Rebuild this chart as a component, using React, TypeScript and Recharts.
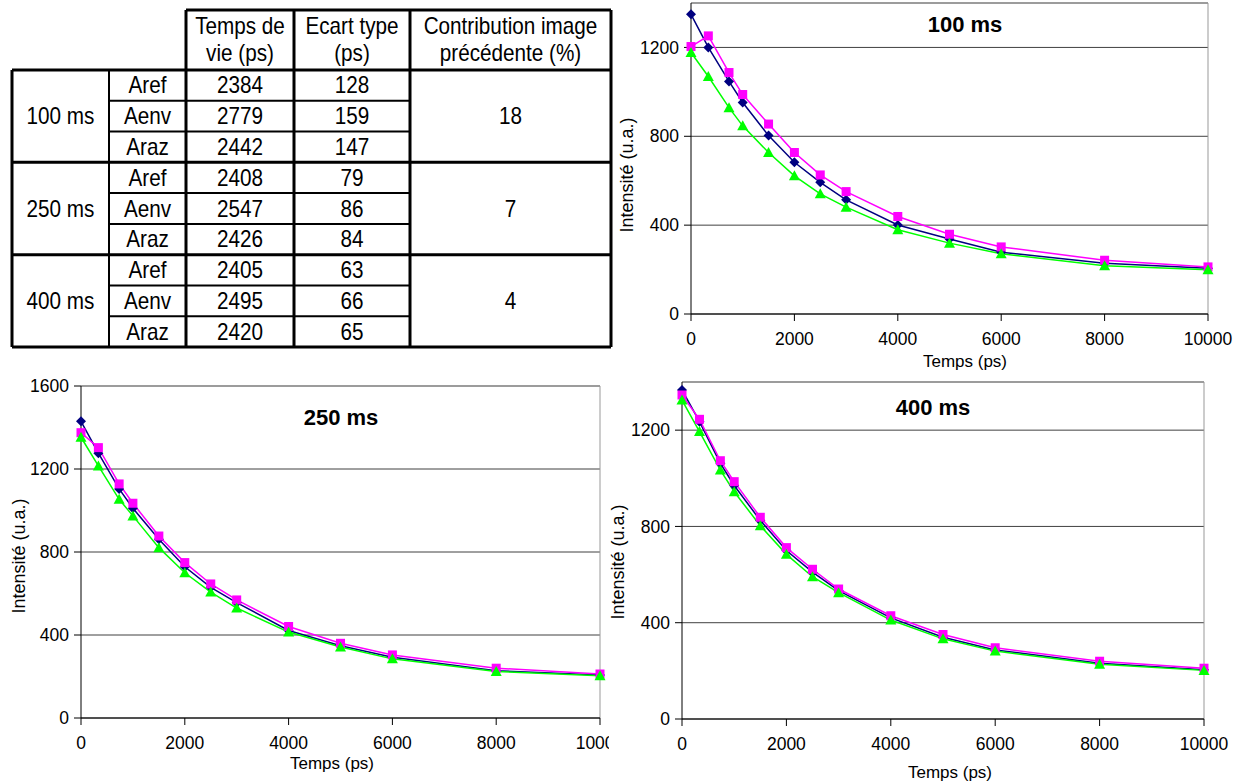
import { LineChart, Line, XAxis, YAxis, CartesianGrid, ReferenceLine } from 'recharts'

// time gates (ps) shared by the three decays
const times = [0, 335, 735, 1000, 1500, 2000, 2500, 3000, 4000, 5000, 6000, 8000, 10000]
const xTicks = [0, 2000, 4000, 6000, 8000, 10000]

const aref100 = [1349, 1200, 1047, 952, 803, 683, 593, 514, 401, 338, 278, 229, 206]
const aenv100 = [1204, 1252, 1087, 988, 855, 727, 626, 551, 439, 359, 302, 242, 212]
const araz100 = [1177, 1069, 929, 847, 727, 622, 541, 481, 379, 319, 271, 217, 199]

const aref250 = [1430, 1276, 1104, 1011, 861, 729, 630, 556, 422, 348, 293, 228, 207]
const aenv250 = [1375, 1303, 1128, 1035, 877, 749, 646, 569, 441, 360, 304, 240, 212]
const araz250 = [1353, 1215, 1054, 974, 821, 700, 607, 530, 414, 342, 285, 224, 204]

const aref400 = [1367, 1235, 1062, 970, 825, 700, 610, 533, 420, 340, 287, 232, 205]
const aenv400 = [1346, 1245, 1073, 986, 838, 712, 622, 540, 429, 351, 296, 240, 211]
const araz400 = [1325, 1194, 1034, 944, 803, 684, 591, 525, 411, 333, 282, 227, 202]

// table
const groups = ['100 ms', '250 ms', '400 ms']
const methods = ['Aref', 'Aenv', 'Araz']
const lifetimes = [2384, 2779, 2442, 2408, 2547, 2426, 2405, 2495, 2420]
const stdDevs = [128, 159, 147, 79, 86, 84, 63, 66, 65]
const contributions = [18, 7, 4]

const NAVY = '#000080'
const MAGENTA = '#FF00FF'
const GREEN = '#00FF00'
const FONT = '"Liberation Sans", Arial, sans-serif'

function build(aref: number[], aenv: number[], araz: number[]) {
  return times.map((t, i) => ({ t, aref: aref[i], aenv: aenv[i], araz: araz[i] }))
}

const Diamond = (p: any) => {
  const { cx, cy } = p
  if (cx == null || cy == null) return <g key={p.key} />
  const r = 5
  return <path key={p.key} d={`M${cx},${cy - r}L${cx + r},${cy}L${cx},${cy + r}L${cx - r},${cy}Z`} fill={NAVY} />
}
const Square = (p: any) => {
  const { cx, cy } = p
  if (cx == null || cy == null) return <g key={p.key} />
  return <rect key={p.key} x={cx - 4.5} y={cy - 4.5} width={9} height={9} fill={MAGENTA} />
}
const Triangle = (p: any) => {
  const { cx, cy } = p
  if (cx == null || cy == null) return <g key={p.key} />
  return <path key={p.key} d={`M${cx},${cy - 5.5}L${cx + 5.5},${cy + 4.5}L${cx - 5.5},${cy + 4.5}Z`} fill={GREEN} />
}

type ChartProps = {
  data: any[]
  left: number
  top: number
  clip: number
  width: number
  height: number
  marginTop: number
  marginRight: number
  yAxisWidth: number
  xAxisHeight: number
  yMax: number
  yTicks: number[]
}

function Decay(c: ChartProps) {
  const tick = { fill: '#000', fontSize: 17.5, fontFamily: FONT }
  return (
    <div style={{ position: 'absolute', left: c.left, top: c.top, width: c.clip, height: c.height, overflow: 'hidden' }}>
      <LineChart width={c.width} height={c.height} data={c.data} margin={{ top: c.marginTop, right: c.marginRight, left: 0, bottom: 0 }}>
        <CartesianGrid vertical={false} stroke="#404040" />
        <ReferenceLine y={c.yMax} stroke="#999" />
        <ReferenceLine x={10000} stroke="#999" />
        <XAxis dataKey="t" type="number" domain={[0, 10000]} ticks={xTicks} interval={0} height={c.xAxisHeight}
          stroke="#000" tick={tick} tickSize={7} tickMargin={12} />
        <YAxis type="number" domain={[0, c.yMax]} ticks={c.yTicks} interval={0} width={c.yAxisWidth}
          stroke="#000" tick={tick} tickSize={7} tickMargin={5} />
        <Line dataKey="aref" stroke={NAVY} strokeWidth={1.5} dot={Diamond} isAnimationActive={false} />
        <Line dataKey="aenv" stroke={MAGENTA} strokeWidth={1.5} dot={Square} isAnimationActive={false} />
        <Line dataKey="araz" stroke={GREEN} strokeWidth={1.5} dot={Triangle} isAnimationActive={false} />
      </LineChart>
    </div>
  )
}

function Txt({ x, y, children, size, bold, rotate }: { x: number; y: number; children: any; size: number; bold?: boolean; rotate?: boolean }) {
  return (
    <div style={{
      position: 'absolute', left: x, top: y, whiteSpace: 'nowrap', fontFamily: FONT,
      fontSize: size, fontWeight: bold ? 'bold' : 'normal', lineHeight: 1,
      transform: `translate(-50%, -50%)${rotate ? ' rotate(-90deg)' : ''}`,
    }}>{children}</div>
  )
}

// table geometry
const colX = [12, 109, 186, 294, 410, 611]
const headTop = 10
const headBottom = 70
const rowH = (347 - headBottom) / 9

function DataTable() {
  const rowY = (i: number) => headBottom + i * rowH
  const cell = (x: number, y: number, s: string | number, k: string) => (
    <text key={k} transform={`translate(${x},${y}) scale(0.9,1)`} textAnchor="middle" fontSize={23} fontFamily={FONT} fill="#000">{s}</text>
  )
  const thick = 3
  const thin = 2
  return (
    <svg style={{ position: 'absolute', left: 0, top: 0 }} width={620} height={352}>
      {/* header */}
      <line x1={colX[2]} x2={colX[5]} y1={headTop} y2={headTop} stroke="#000" strokeWidth={thick} />
      <line x1={colX[0]} x2={colX[5]} y1={headBottom} y2={headBottom} stroke="#000" strokeWidth={thick} />
      {[2, 3, 4, 5].map((c) => (
        <line key={'hv' + c} x1={colX[c]} x2={colX[c]} y1={headTop} y2={headBottom} stroke="#000" strokeWidth={thick} />
      ))}
      {cell((colX[2] + colX[3]) / 2, 34, 'Temps de', 'h1')}
      {cell((colX[2] + colX[3]) / 2, 61, 'vie (ps)', 'h2')}
      {cell((colX[3] + colX[4]) / 2, 34, 'Ecart type', 'h3')}
      {cell((colX[3] + colX[4]) / 2, 61, '(ps)', 'h4')}
      {cell((colX[4] + colX[5]) / 2, 34, 'Contribution image', 'h5')}
      {cell((colX[4] + colX[5]) / 2, 61, 'précédente (%)', 'h6')}
      {/* body verticals */}
      {[0, 2, 3, 4, 5].map((c) => (
        <line key={'bv' + c} x1={colX[c]} x2={colX[c]} y1={headBottom} y2={rowY(9)} stroke="#000" strokeWidth={thick} />
      ))}
      <line x1={colX[1]} x2={colX[1]} y1={headBottom} y2={rowY(9)} stroke="#000" strokeWidth={thin} />
      {/* row lines */}
      {Array.from({ length: 9 }, (_, i) => i + 1).map((i) =>
        i % 3 === 0 ? (
          <line key={'r' + i} x1={colX[0]} x2={colX[5]} y1={rowY(i)} y2={rowY(i)} stroke="#000" strokeWidth={thick} />
        ) : (
          <line key={'r' + i} x1={colX[1]} x2={colX[4]} y1={rowY(i)} y2={rowY(i)} stroke="#000" strokeWidth={thin} />
        )
      )}
      {groups.map((g, gi) => cell((colX[0] + colX[1]) / 2, rowY(gi * 3 + 1.5) + 8, g, 'g' + gi))}
      {contributions.map((v, gi) => cell((colX[4] + colX[5]) / 2, rowY(gi * 3 + 1.5) + 8, v, 'c' + gi))}
      {lifetimes.map((v, i) => (
        <g key={'row' + i}>
          {cell((colX[1] + colX[2]) / 2, rowY(i + 0.5) + 8, methods[i % 3], 'm' + i)}
          {cell((colX[2] + colX[3]) / 2, rowY(i + 0.5) + 8, v, 'l' + i)}
          {cell((colX[3] + colX[4]) / 2, rowY(i + 0.5) + 8, stdDevs[i], 's' + i)}
        </g>
      ))}
    </svg>
  )
}

export default function App() {
  return (
    <div style={{ position: 'absolute', left: 0, top: 0, width: 1244, height: 783, background: '#fff', fontFamily: FONT }}>
      <DataTable />

      <Decay data={build(aref100, aenv100, araz100)} left={612} top={0} clip={632} width={632} height={383}
        marginTop={3} marginRight={36} yAxisWidth={79} xAxisHeight={69} yMax={1400} yTicks={[0, 400, 800, 1200]} />
      <Txt x={965} y={25} size={22} bold>100 ms</Txt>
      <Txt x={965} y={361} size={17}>Temps (ps)</Txt>
      <Txt x={627} y={175} size={18} rotate>Intensité (u.a.)</Txt>

      <Decay data={build(aref250, aenv250, araz250)} left={0} top={370} clip={609} width={640} height={413}
        marginTop={16} marginRight={40} yAxisWidth={81} xAxisHeight={65} yMax={1600} yTicks={[0, 400, 800, 1200, 1600]} />
      <Txt x={341} y={418} size={22} bold>250 ms</Txt>
      <Txt x={332} y={763} size={17}>Temps (ps)</Txt>
      <Txt x={19} y={556} size={18} rotate>Intensité (u.a.)</Txt>

      <Decay data={build(aref400, aenv400, araz400)} left={612} top={370} clip={632} width={632} height={413}
        marginTop={12} marginRight={40} yAxisWidth={70} xAxisHeight={64} yMax={1400} yTicks={[0, 400, 800, 1200]} />
      <Txt x={933} y={408} size={22} bold>400 ms</Txt>
      <Txt x={950} y={772} size={17}>Temps (ps)</Txt>
      <Txt x={618} y={562} size={18} rotate>Intensité (u.a.)</Txt>
    </div>
  )
}
